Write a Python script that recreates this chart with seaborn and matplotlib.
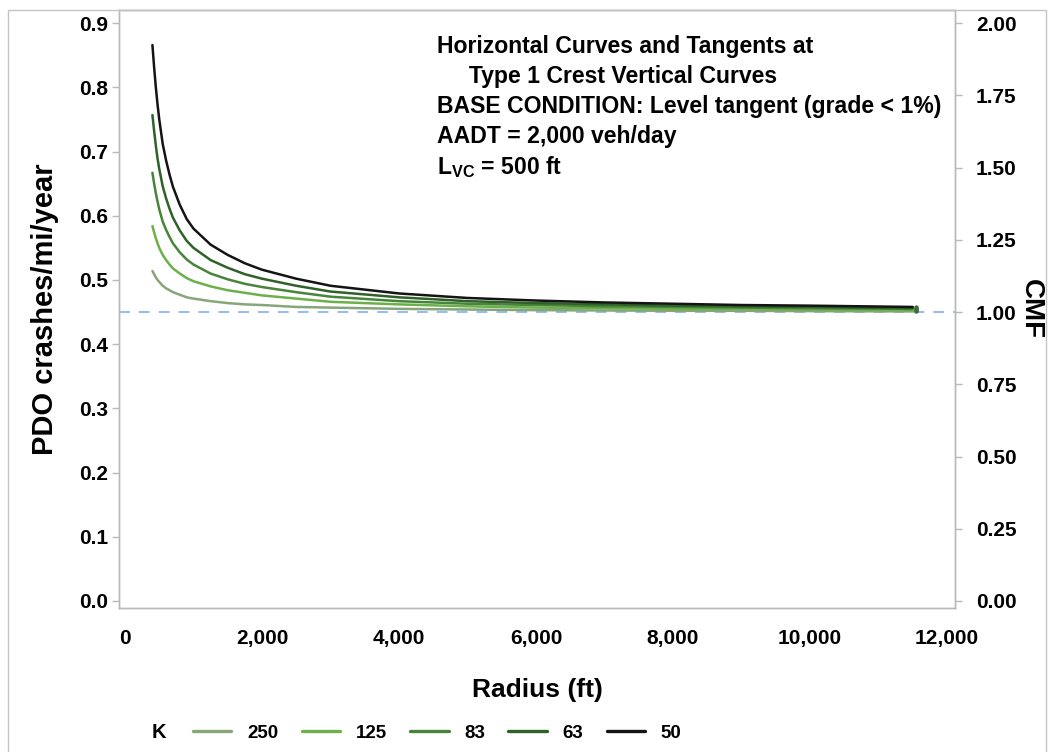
import numpy as np
import pandas as pd
import matplotlib
matplotlib.use("Agg")
import matplotlib.pyplot as plt
import seaborn as sns
from matplotlib.patches import Rectangle
from matplotlib.ticker import FuncFormatter

# ---------------- data ----------------
radius = [400, 425, 450, 475, 500, 550, 600, 650, 700, 800, 900, 1000, 1250, 1500, 1750,
          2000, 2500, 3000, 4000, 5000, 6000, 7000, 8000, 9000, 10000, 11500]

k_labels = ["250", "125", "83", "63", "50"]

pdo_k250 = [0.514, 0.509, 0.504, 0.500, 0.497, 0.491, 0.487, 0.484, 0.481, 0.477, 0.473, 0.471,
            0.467, 0.464, 0.462, 0.461, 0.458, 0.457, 0.455, 0.454, 0.453, 0.4525, 0.452,
            0.452, 0.4515, 0.451]
pdo_k125 = [0.584, 0.574, 0.565, 0.557, 0.550, 0.539, 0.531, 0.524, 0.518, 0.510, 0.503, 0.498,
            0.490, 0.484, 0.480, 0.476, 0.471, 0.466, 0.462, 0.459, 0.457, 0.456, 0.455,
            0.455, 0.454, 0.453]
pdo_k83 = [0.667, 0.650, 0.635, 0.622, 0.610, 0.591, 0.578, 0.567, 0.557, 0.543, 0.532, 0.524,
           0.510, 0.501, 0.494, 0.489, 0.481, 0.474, 0.467, 0.463, 0.461, 0.459, 0.458,
           0.457, 0.456, 0.455]
pdo_k63 = [0.757, 0.732, 0.709, 0.689, 0.673, 0.646, 0.627, 0.611, 0.597, 0.577, 0.561, 0.550,
           0.531, 0.519, 0.509, 0.502, 0.491, 0.482, 0.473, 0.467, 0.464, 0.462, 0.460,
           0.459, 0.458, 0.456]
pdo_k50 = [0.866, 0.831, 0.800, 0.773, 0.750, 0.712, 0.686, 0.664, 0.645, 0.617, 0.595, 0.580,
           0.555, 0.539, 0.526, 0.516, 0.502, 0.491, 0.479, 0.472, 0.468, 0.465, 0.463,
           0.461, 0.460, 0.458]

base_pdo = 0.45          # PDO at CMF = 1.00
end_radius = 11550       # small end markers

x_ticks = [0, 2000, 4000, 6000, 8000, 10000, 12000]
y_ticks = [0.0, 0.1, 0.2, 0.3, 0.4, 0.5, 0.6, 0.7, 0.8, 0.9]
cmf_ticks = [0.00, 0.25, 0.50, 0.75, 1.00, 1.25, 1.50, 1.75, 2.00]

annotation_lines = [
    "Horizontal Curves and Tangents at",
    "     Type 1 Crest Vertical Curves",
    "BASE CONDITION: Level tangent (grade < 1%)",
    "AADT = 2,000 veh/day",
    r"L$_{\mathregular{VC}}$ = 500 ft",
]

# ---------------- build table ----------------
series = {"250": pdo_k250, "125": pdo_k125, "83": pdo_k83, "63": pdo_k63, "50": pdo_k50}
rows = []
for k, vals in series.items():
    for r, v in zip(radius, vals):
        rows.append({"Radius": r, "PDO": v, "K": k})
df = pd.DataFrame(rows)

palette = {"250": "#86a67a", "125": "#6cb04a", "83": "#47853a", "63": "#2e6228", "50": "#141414"}

# ---------------- style ----------------
sns.set_style("white")
plt.rcParams["font.family"] = ["Liberation Sans", "DejaVu Sans"]
plt.rcParams["font.weight"] = "bold"
plt.rcParams["mathtext.default"] = "regular"
plt.rcParams["text.color"] = "black"
plt.rcParams["axes.labelcolor"] = "black"

W, H = 1049, 752
fig = plt.figure(figsize=(W / 100, H / 100), dpi=100)
ax = fig.add_axes([119 / W, 1 - 608 / H, (955 - 119) / W, (608 - 10) / H])

sns.lineplot(data=df, x="Radius", y="PDO", hue="K", hue_order=k_labels,
             palette=palette, linewidth=1.8, ax=ax, legend=True, estimator=None,
             sort=True)

# end markers
for k in k_labels:
    ax.scatter([end_radius], [series[k][-1]], s=10, color="#3d6b30", zorder=4,
               linewidths=0)

ax.axhline(base_pdo, color="#8cb6ea", lw=1.3, ls=(0, (6, 5)), zorder=1)

ax.set_xlim(-88, 12117)
ylo, yhi = -0.011, 0.9206
ax.set_ylim(ylo, yhi)
ax.set_xticks(x_ticks)
ax.set_yticks(y_ticks)
ax.xaxis.set_major_formatter(FuncFormatter(lambda v, p: f"{int(v):,}"))
ax.yaxis.set_major_formatter(FuncFormatter(lambda v, p: f"{v:.1f}"))

spine_c = "#b8b8b8"
for s in ax.spines.values():
    s.set_color(spine_c)
    s.set_linewidth(1.0)
ax.tick_params(axis="x", which="major", direction="out", length=5, width=1,
               color=spine_c, labelcolor="black", labelsize=15, pad=10)
ax.tick_params(axis="y", which="major", direction="out", length=5, width=1,
               color=spine_c, labelcolor="black", labelsize=15, pad=3)
for lab in ax.get_xticklabels() + ax.get_yticklabels():
    lab.set_fontweight("bold")

ax.set_xlabel("Radius (ft)", fontsize=19, fontweight="bold", labelpad=22)
ax.set_ylabel("PDO crashes/mi/year", fontsize=21, fontweight="bold", labelpad=14)

# right axis: CMF
ax2 = ax.twinx()
ax2.set_ylim(ylo / base_pdo, yhi / base_pdo)
ax2.set_yticks(cmf_ticks)
ax2.yaxis.set_major_formatter(FuncFormatter(lambda v, p: f"{v:.2f}"))
for s in ax2.spines.values():
    s.set_color(spine_c)
    s.set_linewidth(1.0)
ax2.tick_params(axis="y", direction="out", length=5, width=1, color=spine_c,
                labelcolor="black", labelsize=15, pad=10)
for lab in ax2.get_yticklabels():
    lab.set_fontweight("bold")
ax2.set_ylabel("CMF", fontsize=20, fontweight="bold", rotation=-90, labelpad=20)

# annotation
y0 = 47
for i, line in enumerate(annotation_lines):
    fig.text(437 / W, 1 - (y0 + 30 * i) / H, line, fontsize=16.6, fontweight="bold",
             ha="left", va="center", color="black")

# legend
handles, labels = ax.get_legend_handles_labels()
ax.get_legend().remove()
leg = fig.legend(handles, labels, loc="center left",
                 bbox_to_anchor=(193 / W, 1 - 733 / H), ncol=5, frameon=False,
                 borderpad=0, borderaxespad=0, handlelength=2.05, handletextpad=0.83,
                 columnspacing=1.25,
                 prop={"weight": "bold", "size": 13.5})
for line in leg.get_lines():
    line.set_linewidth(2.4)
fig.text(159 / W, 1 - 733 / H, "K", fontsize=14.5, fontweight="bold",
         ha="center", va="center")

# outer figure border
fig.patches.append(Rectangle((8 / W, -0.01), (1046 - 8) / W, 1 - 10 / H + 0.01,
                             transform=fig.transFigure, fill=False,
                             edgecolor="#c4c4c4", linewidth=1.0))

fig.savefig("out.png", dpi=100)
